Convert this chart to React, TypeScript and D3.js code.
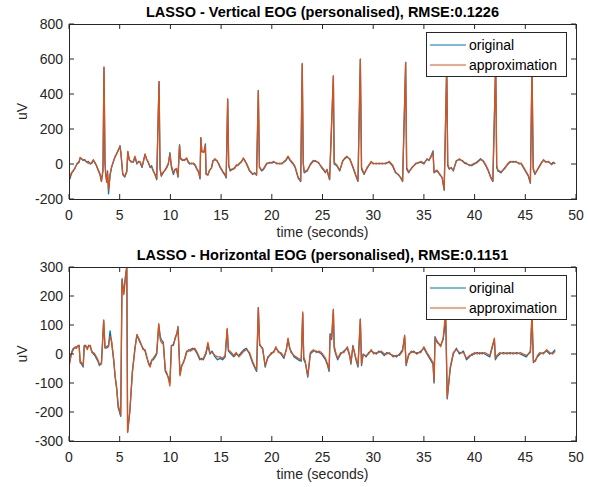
import React from "react";
import * as d3 from "d3";

// [time (s), original (uV), approximation (uV)]
const verticalRows: [number, number, number][] = [
  [0.0, -30, -35], [0.1, -85, -75], [0.25, -50, -55], [0.43, -40, -35], [0.6, -20, -25], [0.8, 0, 5],
  [1.0, 10, 15], [1.1, 35, 38], [1.25, 30, 28], [1.4, 20, 25], [1.55, 25, 20], [1.75, 10, 12],
  [1.9, 15, 5], [2.1, 0, 2], [2.25, 5, 10], [2.4, 20, 25], [2.55, 10, 5], [2.7, -10, -5],
  [2.9, -40, -35], [3.05, -60, -55], [3.2, -100, -95], [3.35, -40, -30], [3.45, 550, 555], [3.55, 0, 20],
  [3.62, -60, -55], [3.72, -100, -105], [3.8, -40, -50], [3.9, -170, -150], [4.05, -60, -65], [4.2, -20, -15],
  [4.4, 20, 15], [4.55, 40, 45], [4.7, 60, 55], [4.85, 75, 80], [5.03, 105, 100], [5.12, 60, 65],
  [5.3, -60, -55], [5.5, -75, -70], [5.7, -40, -45], [5.8, 70, 72], [5.95, 20, 25], [6.15, 15, 10],
  [6.35, 10, 15], [6.5, 40, 45], [6.7, 0, 5], [6.85, 15, 10], [7.0, 10, 15], [7.2, -20, -15],
  [7.35, 20, 15], [7.5, 55, 58], [7.65, 30, 25], [7.8, 10, 15], [8.0, -20, -15], [8.15, -10, -20],
  [8.3, -40, -35], [8.5, -60, -65], [8.65, -90, -85], [8.88, 470, 470], [8.98, -30, -20], [9.1, -70, -65],
  [9.3, -50, -45], [9.5, -30, -35], [9.65, -20, -15], [9.8, 0, 5], [9.95, 65, 55], [10.1, -20, -10],
  [10.3, -60, -50], [10.45, -30, -35], [10.6, -30, -25], [10.75, -75, -70], [10.9, 110, 105], [11.0, 30, 35],
  [11.2, 20, 25], [11.4, 25, 20], [11.6, 30, 35], [11.75, 10, 15], [11.9, 0, 5], [12.1, 5, 0],
  [12.3, 0, 5], [12.45, -10, -5], [12.6, -30, -25], [12.8, -50, -45], [12.92, -85, -80], [13.0, 150, 150],
  [13.1, 70, 75], [13.3, 70, 65], [13.45, 115, 105], [13.52, -60, -55], [13.7, -60, -65], [13.85, -40, -35],
  [14.05, -20, -25], [14.2, 20, 15], [14.4, 25, 30], [14.6, 20, 15], [14.75, 0, 5], [14.9, -20, -15],
  [15.05, -30, -35], [15.2, -50, -45], [15.35, -60, -55], [15.5, -80, -75], [15.65, 370, 372], [15.75, -10, -5],
  [15.9, -40, -35], [16.05, -30, -35], [16.2, -30, -25], [16.35, -20, -25], [16.5, -10, -5], [16.65, -5, -10],
  [16.8, 0, 5], [17.0, 15, 10], [17.2, 30, 35], [17.35, 20, 15], [17.5, 0, 5], [17.65, -20, -15],
  [17.8, -40, -35], [17.95, -45, -50], [18.1, -60, -55], [18.3, -50, -55], [18.5, -60, -65], [18.67, 420, 418],
  [18.78, -20, -15], [19.0, -40, -35], [19.2, -30, -25], [19.5, 0, 5], [19.8, 10, 5], [20.0, 5, 10],
  [20.2, 10, 15], [20.5, 5, 0], [20.8, 0, 5], [21.0, 5, 0], [21.2, 10, 15], [21.4, 20, 25],
  [21.6, 40, 45], [21.8, 20, 25], [22.1, 0, 5], [22.3, -20, -15], [22.6, -80, -75], [22.85, -100, -95],
  [23.0, 570, 575], [23.1, 0, 10], [23.2, -50, -45], [23.5, -40, -35], [23.8, 0, -5], [24.1, 20, 15],
  [24.3, 15, 20], [24.6, 10, 5], [24.9, -20, -15], [25.1, -35, -30], [25.3, -50, -45], [25.45, -30, -35],
  [25.55, -60, -55], [25.7, -90, -85], [26.07, 500, 505], [26.15, 0, 10], [26.4, -10, -5], [26.7, -40, -35],
  [27.0, 20, 15], [27.2, 30, 35], [27.4, 40, 45], [27.7, 30, 25], [28.0, -20, -15], [28.3, -70, -65],
  [28.5, -100, -95], [28.73, 596, 600], [28.85, -30, -20], [29.1, -60, -55], [29.4, -20, -25], [29.8, 10, 15],
  [30.0, 5, 0], [30.3, 0, 5], [30.6, 5, 0], [30.9, 0, 5], [31.2, 5, 0], [31.6, 10, 15],
  [31.9, -10, -5], [32.2, -50, -45], [32.5, -60, -65], [32.7, -80, -75], [32.9, -100, -95], [33.2, 580, 580],
  [33.3, -30, -20], [33.5, -50, -45], [33.8, -20, -25], [34.2, 0, 5], [34.5, 10, 5], [34.7, 10, 15],
  [35.0, 0, 5], [35.3, 30, 25], [35.5, 20, 25], [35.7, 45, 40], [35.9, 75, 65], [36.0, -50, -45],
  [36.3, -40, -35], [36.6, -60, -65], [36.8, -80, -75], [37.0, -150, -145], [37.25, 560, 560], [37.35, -10, 0],
  [37.5, -30, -25], [37.7, -20, -25], [37.9, -40, -35], [38.2, 20, 15], [38.5, 25, 30], [38.8, 20, 15],
  [39.0, 5, 10], [39.2, 0, 5], [39.5, -5, -10], [39.7, -10, -5], [40.0, 0, 5], [40.2, 10, 5],
  [40.6, 30, 25], [40.85, 15, 20], [41.1, -10, -5], [41.35, -40, -35], [41.6, -80, -75], [41.8, -100, -95],
  [42.08, 580, 580], [42.18, -20, -10], [42.3, -40, -35], [42.6, -50, -45], [43.0, -20, -25], [43.3, 0, 5],
  [43.5, 10, 15], [43.8, 15, 10], [44.1, 10, 15], [44.4, 5, 0], [44.6, 0, 5], [44.8, -20, -15],
  [45.0, -40, -35], [45.3, -70, -65], [45.5, -110, -105], [45.66, 550, 550], [45.78, -30, -20], [45.95, -60, -55],
  [46.3, -20, -25], [46.6, 10, 5], [46.8, 20, 25], [47.0, 15, 10], [47.3, 10, 15], [47.6, 0, -5],
  [47.75, 10, 5], [47.95, 0, 5],
];

const horizontalRows: [number, number, number][] = [
  [0.0, -40, -45], [0.15, -10, -15], [0.3, 10, 5], [0.43, 20, 15], [0.6, 20, 25], [0.75, 25, 20],
  [0.9, 28, 30], [1.0, 30, 25], [1.1, -30, -25], [1.25, -35, -30], [1.4, -45, -40], [1.5, 30, 25],
  [1.65, 25, 30], [1.8, 20, 15], [1.95, 30, 28], [2.1, 25, 30], [2.25, 10, 5], [2.4, 0, 5],
  [2.55, -5, 0], [2.7, -15, -10], [2.85, -25, -20], [3.0, -40, -35], [3.2, -30, -35], [3.42, 115, 118],
  [3.55, 20, 25], [3.7, 25, 20], [3.9, 30, 25], [4.05, 80, 60], [4.2, 40, 45], [4.4, -20, -15],
  [4.55, -80, -75], [4.7, -120, -115], [4.85, -185, -175], [5.1, -215, -210], [5.23, 260, 255], [5.4, 210, 205],
  [5.6, 280, 275], [5.7, 300, 300], [5.78, -270, -270], [6.0, -200, -195], [6.25, -60, -65], [6.5, 20, 15],
  [6.7, 65, 68], [7.0, 40, 45], [7.3, 20, 15], [7.5, 10, 15], [7.65, -10, -5], [7.85, -30, -35],
  [8.0, -40, -45], [8.15, -20, -25], [8.3, -20, -15], [8.5, -10, -5], [8.65, 0, 5], [8.85, 100, 105],
  [9.0, 60, 50], [9.1, 50, 40], [9.3, 40, 35], [9.5, -60, -55], [9.65, -70, -65], [9.8, -80, -85],
  [9.95, -100, -110], [10.1, 30, 25], [10.3, 30, 35], [10.5, 60, 55], [10.65, 70, 75], [10.75, 95, 90],
  [10.95, -70, -75], [11.1, -40, -45], [11.3, -30, -25], [11.45, -10, -15], [11.6, 10, 5], [11.8, 10, 15],
  [11.95, 15, 10], [12.2, 20, 15], [12.4, 15, 20], [12.65, 0, 5], [12.9, -20, -15], [13.1, -15, -20],
  [13.25, -20, -15], [13.5, 0, 5], [13.7, 30, 40], [13.9, 0, 5], [14.1, 10, 5], [14.4, -10, -5],
  [14.65, -20, -10], [14.9, -15, -10], [15.15, -20, -15], [15.4, -10, -5], [15.6, 85, 88], [15.72, 10, 15],
  [16.0, 0, 5], [16.25, -10, -5], [16.5, 0, 5], [16.75, -5, -10], [17.0, 5, 0], [17.25, 15, 10],
  [17.5, 20, 15], [17.8, 0, 5], [18.1, -30, -25], [18.35, -50, -45], [18.5, -60, -55], [18.67, 160, 160],
  [18.8, 30, 35], [19.1, 20, 15], [19.35, -45, -40], [19.6, -10, -15], [19.95, 0, 5], [20.2, 10, 5],
  [20.4, 20, 25], [20.65, 10, 5], [20.9, 0, 5], [21.2, -15, -10], [21.45, 20, 15], [21.6, 50, 55],
  [21.75, 20, 25], [21.9, 10, 5], [22.2, -10, -5], [22.6, -20, -15], [22.9, -25, -20], [23.05, 140, 145],
  [23.15, -20, -10], [23.3, -30, -25], [23.55, -80, -75], [23.8, 0, 5], [24.1, 10, 15], [24.4, 10, 5],
  [24.65, 5, 10], [24.9, 0, 5], [25.1, -10, -5], [25.3, -20, -15], [25.5, -40, -35], [25.65, -60, -55],
  [25.75, 70, 65], [25.9, 50, 55], [26.07, 150, 155], [26.15, 20, 30], [26.3, 0, 5], [26.5, -20, -15],
  [26.8, 0, 5], [27.1, 10, 5], [27.45, 20, 25], [27.7, -10, -5], [27.8, -35, -30], [28.0, 30, 25],
  [28.3, -20, -15], [28.5, -45, -40], [28.73, 120, 120], [28.85, -40, -35], [29.0, 0, -5], [29.3, -10, -5],
  [29.55, 5, 0], [29.8, 10, 15], [30.05, 5, 0], [30.3, 0, 5], [30.55, 10, 5], [30.8, 5, 10],
  [31.1, -5, 0], [31.35, 5, 0], [31.6, 0, 5], [31.95, -5, -10], [32.3, -10, -5], [32.6, 0, -5],
  [32.9, 15, 10], [33.1, 60, 65], [33.25, -40, -35], [33.5, 0, -5], [33.75, 5, 10], [34.0, 10, 5],
  [34.3, 0, 5], [34.7, 10, 5], [35.0, 20, 25], [35.3, 0, 5], [35.65, -20, -15], [35.9, -35, -30],
  [36.0, -100, -95], [36.1, 60, 55], [36.3, 40, 45], [36.65, 30, 25], [36.9, 50, 55], [37.15, 120, 150],
  [37.3, -155, -150], [37.6, -50, -45], [37.9, 0, 5], [38.2, 20, 15], [38.5, 0, 5], [38.9, 10, 5],
  [39.2, -20, -15], [39.5, -10, -5], [39.75, 0, -5], [40.0, 0, 5], [40.25, 5, 0], [40.5, 0, 5],
  [40.75, 5, 0], [41.0, 0, 5], [41.25, -5, 0], [41.5, -10, -5], [41.95, 50, 55], [42.05, -20, -15],
  [42.2, -10, -5], [42.5, 0, 5], [42.85, 5, 0], [43.2, 0, 5], [43.5, 5, 0], [43.8, 0, 5],
  [44.15, 5, 0], [44.5, 0, 5], [44.8, -5, 0], [45.1, -10, -5], [45.5, 10, 5], [45.66, 130, 140],
  [45.8, -30, -25], [46.0, -20, -25], [46.2, -10, -5], [46.45, 0, 5], [46.8, 5, 0], [47.1, 10, 15],
  [47.4, 0, 5], [47.7, 5, 0], [47.95, 15, 10],
];

const xTicks = [0, 5, 10, 15, 20, 25, 30, 35, 40, 45, 50];
const verticalYTicks = [-200, 0, 200, 400, 600, 800];
const horizontalYTicks = [-300, -200, -100, 0, 100, 200, 300];
const seriesNames = ["original", "approximation"];
const titles = [
  "LASSO - Vertical EOG (personalised), RMSE:0.1226",
  "LASSO - Horizontal EOG (personalised), RMSE:0.1151",
];
const xLabel = "time (seconds)";
const yLabel = "uV";

const COLORS = ["#0072BD", "#D95319"];
const AXIS = "#262626";
const FONT = "'Liberation Sans', Arial, Helvetica, sans-serif";

type PanelProps = {
  rows: [number, number, number][];
  yTicks: number[];
  title: string;
  top: number;
  bottom: number;
};

const LEFT = 69;
const RIGHT = 576;

function Panel({ rows, yTicks, title, top, bottom }: PanelProps) {
  const x = d3.scaleLinear().domain([0, 50]).range([LEFT, RIGHT]);
  const y = d3
    .scaleLinear()
    .domain([yTicks[0], yTicks[yTicks.length - 1]])
    .range([bottom, top]);
  const clipId = `clip-${top}`;
  const lineFor = (idx: number) =>
    d3
      .line<[number, number, number]>()
      .x((d) => x(d[0]))
      .y((d) => y(d[idx]))(rows) || "";
  const tl = 5;
  const cx = (LEFT + RIGHT) / 2;
  const lx0 = 426;
  const lx1 = 566;
  const ly0 = top + 8;
  const ly1 = top + 52;
  return (
    <g>
      <defs>
        <clipPath id={clipId}>
          <rect x={LEFT} y={top} width={RIGHT - LEFT} height={bottom - top} />
        </clipPath>
      </defs>
      <rect x={LEFT} y={top} width={RIGHT - LEFT} height={bottom - top} fill="#fff" />
      <g clipPath={`url(#${clipId})`}>
        <path d={lineFor(1)} fill="none" stroke={COLORS[0]} strokeWidth={1.3} strokeLinejoin="round" />
        <path d={lineFor(2)} fill="none" stroke={COLORS[1]} strokeWidth={1.3} strokeLinejoin="round" />
      </g>
      {/* box */}
      <rect
        x={LEFT + 0.5}
        y={top + 0.5}
        width={RIGHT - LEFT}
        height={bottom - top}
        fill="none"
        stroke={AXIS}
        strokeWidth={1}
      />
      {xTicks.map((t) => (
        <g key={`x${t}`}>
          <line x1={x(t)} x2={x(t)} y1={bottom} y2={bottom - tl} stroke={AXIS} />
          <line x1={x(t)} x2={x(t)} y1={top} y2={top + tl} stroke={AXIS} />
          <text
            x={x(t)}
            y={bottom + 21}
            textAnchor="middle"
            fontFamily={FONT}
            fontSize={14}
            fill={AXIS}
          >
            {t}
          </text>
        </g>
      ))}
      {yTicks.map((t) => (
        <g key={`y${t}`}>
          <line x1={LEFT} x2={LEFT + tl} y1={y(t)} y2={y(t)} stroke={AXIS} />
          <line x1={RIGHT} x2={RIGHT - tl} y1={y(t)} y2={y(t)} stroke={AXIS} />
          <text
            x={LEFT - 6}
            y={y(t) + 5}
            textAnchor="end"
            fontFamily={FONT}
            fontSize={14}
            fill={AXIS}
          >
            {t}
          </text>
        </g>
      ))}
      <text
        x={cx}
        y={top - 7}
        textAnchor="middle"
        fontFamily={FONT}
        fontWeight="bold"
        fontSize={14.5}
        fill="#000"
      >
        {title}
      </text>
      <text
        x={cx}
        y={bottom + 38}
        textAnchor="middle"
        fontFamily={FONT}
        fontSize={14}
        fill={AXIS}
      >
        {xLabel}
      </text>
      <text
        transform={`translate(27,${(top + bottom) / 2}) rotate(-90)`}
        textAnchor="middle"
        fontFamily={FONT}
        fontSize={14}
        fill={AXIS}
      >
        {yLabel}
      </text>
      {/* legend */}
      <rect
        x={lx0 + 0.5}
        y={ly0 + 0.5}
        width={lx1 - lx0}
        height={ly1 - ly0}
        fill="#fff"
        stroke={AXIS}
        strokeWidth={1}
      />
      {seriesNames.map((name, i) => {
        const yy = ly0 + 13 + i * 20;
        return (
          <g key={name}>
            <line x1={430} x2={466} y1={yy} y2={yy} stroke={COLORS[i]} strokeWidth={1} />
            <text x={469} y={yy + 5} fontFamily={FONT} fontSize={14} fill="#000">
              {name}
            </text>
          </g>
        );
      })}
    </g>
  );
}

export default function App() {
  return (
    <svg
      width={590}
      height={487}
      style={{ position: "absolute", left: 0, top: 0, background: "#fff" }}
    >
      <Panel rows={verticalRows} yTicks={verticalYTicks} title={titles[0]} top={24} bottom={199} />
      <Panel rows={horizontalRows} yTicks={horizontalYTicks} title={titles[1]} top={267} bottom={441} />
    </svg>
  );
}
